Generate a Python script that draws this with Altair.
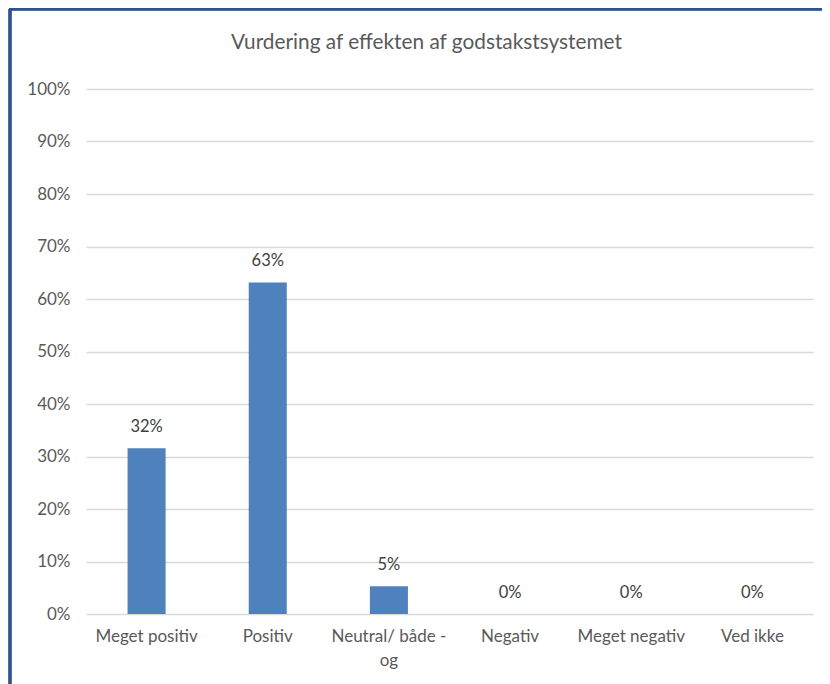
import altair as alt
import pandas as pd

categories = ["Meget positiv", "Positiv", "Neutral/ både - og", "Negativ", "Meget negativ", "Ved ikke"]
shares = [6/19, 12/19, 1/19, 0.0, 0.0, 0.0]
y_ticks = [i / 10 for i in range(11)]

df = pd.DataFrame({"kategori": categories, "andel": shares})

FONT = "Lato"
GREY = "#595959"
W, H = 727, 525
PAD_L, PAD_T = 78, 81

x_enc = alt.X(
    "kategori:N",
    sort=categories,
    title=None,
    scale=alt.Scale(paddingInner=0.686, paddingOuter=0.343),
    axis=alt.Axis(
        labelAngle=0,
        labelFontSize=17,
        labelColor=GREY,
        labelFont=FONT,
        labelPadding=14,
        labelLineHeight=24,
        labelBaseline="top",
        domain=False,
        ticks=False,
        grid=False,
        labelExpr="datum.label == 'Neutral/ både - og' ? ['Neutral/ både -', 'og'] : datum.label",
    ),
)
y_enc = alt.Y(
    "andel:Q",
    title=None,
    scale=alt.Scale(domain=[0, 1], nice=False),
    axis=alt.Axis(
        values=y_ticks,
        format=".0%",
        labelFontSize=17,
        labelColor=GREY,
        labelFont=FONT,
        labelPadding=16,
        domain=False,
        ticks=False,
        gridColor="#D9D9D9",
        gridWidth=1.5,
    ),
)

bars = alt.Chart(df).mark_bar(color="#4F81BD").encode(x=x_enc, y=y_enc)

labels = alt.Chart(df).mark_text(
    baseline="bottom", dy=-13, fontSize=16.5, color="#404040", font=FONT
).encode(
    x=alt.X("kategori:N", sort=categories),
    y=alt.Y("andel:Q"),
    text=alt.Text("andel:Q", format=".0%"),
)

border_top = alt.Chart(df).mark_rule(color="#2F528F", strokeWidth=2.5).encode(
    x=alt.value(-PAD_L + 1), x2=alt.value(W + 40), y=alt.value(-PAD_T + 1)
)
border_left = alt.Chart(df).mark_rule(color="#2F528F", strokeWidth=2.5).encode(
    x=alt.value(-PAD_L + 2), y=alt.value(-PAD_T + 1), y2=alt.value(H + 100)
)

chart = (
    alt.layer(bars, labels, border_top, border_left)
    .properties(
        width=W,
        height=H,
        padding={"left": PAD_L, "top": PAD_T, "right": 9, "bottom": 70},
        autosize=alt.AutoSizeParams(type="none"),
        title=alt.TitleParams(
            "Vurdering af effekten af godstakstsystemet",
            fontSize=20.8,
            font=FONT,
            fontWeight="normal",
            color=GREY,
            offset=0,
            dy=46,
            dx=-23,
            frame="group",
            anchor="middle",
        ),
    )
    .configure_view(stroke=None)
)

chart.save("out.html", embed_options={"renderer": "svg", "actions": False})
